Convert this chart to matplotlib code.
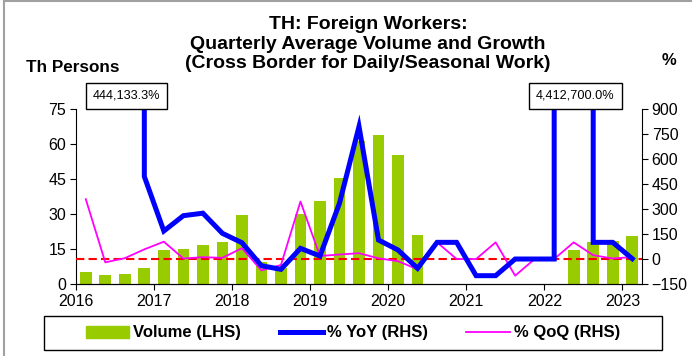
import numpy as np
import matplotlib.pyplot as plt
from matplotlib.lines import Line2D

plt.rcParams['font.family'] = ['Liberation Sans', 'DejaVu Sans']

# quarterly series, 2016Q1 .. 2023Q1
quarters = ["2016Q1", "2016Q2", "2016Q3", "2016Q4",
            "2017Q1", "2017Q2", "2017Q3", "2017Q4",
            "2018Q1", "2018Q2", "2018Q3", "2018Q4",
            "2019Q1", "2019Q2", "2019Q3", "2019Q4",
            "2020Q1", "2020Q2", "2020Q3", "2020Q4",
            "2021Q1", "2021Q2", "2021Q3", "2021Q4",
            "2022Q1", "2022Q2", "2022Q3", "2022Q4",
            "2023Q1"]

volume = [5.3, 3.9, 4.1, 6.9,
          14.6, 15.0, 16.7, 17.9,
          29.6, 9.6, 6.7, 30.2,
          35.6, 45.3, 61.5, 63.9,
          55.3, 21.0, 0, 0,
          0, 0, 0, 0,
          0, 14.6, 17.9, 18.4,
          20.7]

yoy = [np.nan, np.nan, 444133.3, 495,
       168, 260, 275, 154,
       98, -40, -62, 64,
       18, 335, 795, 114,
       54, -56, 100, 100,
       -100, -100, 0, 0,
       0, 4412700.0, 100, 100,
       2]

qoq = [359, -20, 5, 58,
       104, 3, 11, 7,
       65, -68, -36, 345,
       18, 27, 35, 4,
       -13, -62, 100, 0,
       0, 100, -100, 0,
       0, 100, 23, 3,
       12]

year_ticks = list(range(2016, 2024))

# mid-quarter positions in decimal years
x = np.array([int(q[:4]) + (int(q[-1]) - 1) * 0.25 + 0.125 for q in quarters])

fig = plt.figure(figsize=(6.93, 3.56), dpi=100)
ax = fig.add_axes([0.1097, 0.2022, 0.8167, 0.4916])
ax2 = ax.twinx()

ax.bar(x, volume, width=0.15, color="#99CC00", zorder=2)
ax2.axhline(0, color="#FF0000", lw=1.5, ls=(0, (4, 2)), zorder=1)
ax2.plot(x, qoq, color="#FF00FF", lw=1.3, zorder=2)
ax2.plot(x, yoy, color="#0000FF", lw=3.6, zorder=3, solid_joinstyle="miter")

ax.set_xlim(2016, 2023.25)
ax.set_ylim(0, 75)
ax.set_yticks([0, 15, 30, 45, 60, 75])
ax2.set_ylim(-150, 900)
ax2.set_yticks([-150, 0, 150, 300, 450, 600, 750, 900])
ax.set_xticks(year_ticks)

for a in (ax, ax2):
    a.spines["top"].set_visible(False)
    a.tick_params(labelsize=11.5, length=4, width=0.8, pad=3)
ax.spines["right"].set_visible(False)
ax2.spines["left"].set_visible(False)

# boxes for values that run off the chart
for q in ["2016Q3", "2022Q2"]:
    i = quarters.index(q)
    ax2.annotate(f"{yoy[i]:,.1f}%", xy=(x[i] + 0.02, 1.075), xycoords=("data", "axes fraction"),
                 ha="center", va="center", fontsize=9.2,
                 bbox=dict(boxstyle="square,pad=0.55", fc="white", ec="black", lw=1.0),
                 annotation_clip=False, zorder=5)

fig.text(0.531, 0.955, "TH: Foreign Workers:\nQuarterly Average Volume and Growth\n"
         "(Cross Border for Daily/Seasonal Work)",
         ha="center", va="top", fontsize=14, fontweight="bold", linespacing=1.2)
fig.text(0.038, 0.81, "Th Persons", ha="left", va="center", fontsize=12.3, fontweight="bold")
fig.text(0.966, 0.83, "%", ha="center", va="center", fontsize=12, fontweight="bold")

# legend without its own frame, boxed by a separate rectangle
handles = [plt.Rectangle((0, 0), 1, 1, color="#99CC00"),
           Line2D([], [], color="#0000FF", lw=3.6),
           Line2D([], [], color="#FF00FF", lw=1.3)]
fig.legend(handles, ["Volume (LHS)", "% YoY (RHS)", "% QoQ (RHS)"],
           loc="center", ncol=3, bbox_to_anchor=(353 / 693, 1 - 333 / 356),
           prop=dict(size=12, weight="bold"), handlelength=2.6, handletextpad=0.25,
           columnspacing=2.3, frameon=False, borderaxespad=0)
fig.add_artist(plt.Rectangle((44 / 693, 6 / 356), 618 / 693, 34 / 356, transform=fig.transFigure,
                             fill=False, ec="black", lw=1.0))

# outer frame lines of the exhibit
fig.add_artist(Line2D([0.006, 0.006], [0, 0.997], transform=fig.transFigure, color="#A0A0A0", lw=1.5))
fig.add_artist(Line2D([0.006, 0.997], [0.997, 0.997], transform=fig.transFigure, color="#A0A0A0", lw=1.5))

fig.savefig("out.png", dpi=100)
